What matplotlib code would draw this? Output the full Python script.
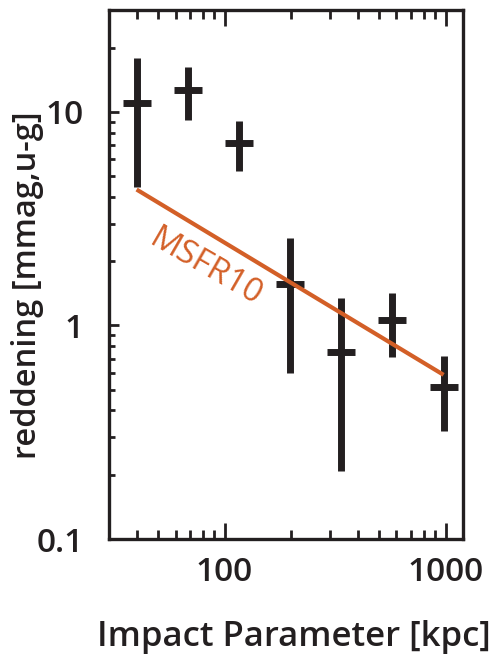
import matplotlib
matplotlib.use("Agg")
import matplotlib.pyplot as plt
import numpy as np

# data
impact_kpc = [40, 68, 116, 197, 338, 575, 980]
reddening = [11.0, 12.6, 7.14, 1.56, 0.754, 1.055, 0.515]
red_low = [4.43, 9.17, 5.27, 0.600, 0.209, 0.714, 0.320]
red_high = [17.8, 16.3, 9.07, 2.57, 1.34, 1.42, 0.722]
model_x = [40, 980]
model_y = [4.33, 0.587]
model_label = "MSFR10"

dark = "#231f20"
orange = "#d35f27"
plt.rcParams['font.family'] = ['Open Sans', 'DejaVu Sans']

fig = plt.figure(figsize=(4.97, 6.62), dpi=100)
ax = fig.add_axes([109/497, 1-539/662, (463-109)/497, (539-10)/662])

y = np.array(reddening)
yerr = [y - np.array(red_low), np.array(red_high) - y]
ax.errorbar(impact_kpc, reddening, yerr=yerr, fmt='none', ecolor=dark,
            elinewidth=5, capsize=0, zorder=2)
ax.plot(impact_kpc, reddening, ls='none', marker='_', ms=20, mew=5,
        color=dark, zorder=2)
ax.plot(model_x, model_y, color=orange, lw=3, zorder=3, solid_capstyle='butt')
ax.text(82, 1.86, model_label, color=orange, fontsize=24, rotation=-30,
        ha='center', va='center', rotation_mode='anchor')

ax.set_xscale('log')
ax.set_yscale('log')
ax.set_xlim(30, 1200)
ax.set_ylim(0.1, 30)
ax.set_xticks([100, 1000])
ax.set_xticklabels(['100', '1000'])
ax.set_yticks([0.1, 1, 10])
ax.set_yticklabels(['0.1', '1', '10'])

for s in ax.spines.values():
    s.set_linewidth(2.4)
    s.set_color(dark)

ax.tick_params(axis='x', which='major', direction='in', length=11.5, width=2,
               top=True, bottom=True, color=dark, pad=12)
ax.tick_params(axis='x', which='minor', direction='in', length=6.5, width=2,
               top=True, bottom=True, color=dark)
ax.tick_params(axis='y', which='major', direction='in', length=7, width=2,
               left=True, right=False, color=dark, pad=18)
ax.tick_params(axis='y', which='minor', direction='in', length=4.3, width=2,
               left=True, right=False, color=dark)
ax.yaxis.set_minor_formatter(matplotlib.ticker.NullFormatter())
ax.xaxis.set_minor_formatter(matplotlib.ticker.NullFormatter())
for lab in ax.get_xticklabels() + ax.get_yticklabels():
    lab.set_fontsize(24)
    lab.set_fontweight('semibold')
    lab.set_color(dark)

ax.set_xlabel("Impact Parameter [kpc]", fontsize=25, fontweight='semibold', color=dark)
ax.set_ylabel("reddening [mmag,u-g]", fontsize=23.5, fontweight='semibold', color=dark)
ax.xaxis.set_label_coords((294-109)/354, (539-620)/529)
ax.xaxis.label.set_va('top')
ax.yaxis.set_label_coords((44-109)/354, (539-285)/529)

fig.savefig("out.png", dpi=100)
